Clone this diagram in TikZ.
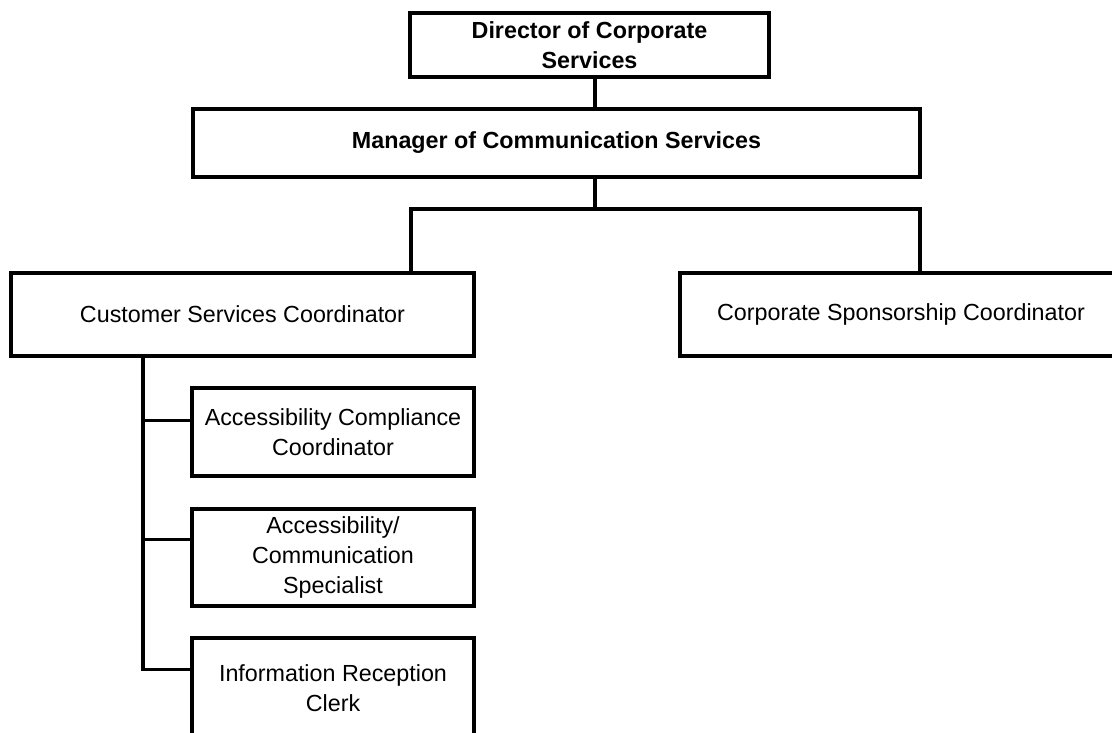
\documentclass[tikz,border=0pt]{standalone}
\usepackage{fontspec}
\setmainfont{Liberation Sans}
\begin{document}
\begin{tikzpicture}[x=1pt,y=-1pt,
  box/.style={draw=black, line width=3.2pt, rectangle, inner sep=0pt, align=center,
    font=\fontsize{23.3}{30}\selectfont, text=black},
  headbox/.style={box, font=\fontsize{23.3}{30}\selectfont\bfseries},
  link/.style={draw=black, line width=3.2pt, line join=miter}]
\useasboundingbox (0,0) rectangle (1112,732);
\clip (0,0) rectangle (1112,732);
\fill[white] (0,0) rectangle (1112,732);

% top of the chart
\node[headbox, minimum width=359pt, minimum height=64pt] (dir) at (589.5,45)
  {Director of Corporate\\Services};
\node[headbox, minimum width=727pt, minimum height=68pt] (mgr) at (556.5,143)
  {Manager of Communication Services};

% coordinators
\node[box, minimum width=463pt, minimum height=83pt] (csc) at (242.5,314.5)
  {Customer Services Coordinator};
\node[box, minimum width=442pt, minimum height=83pt] (corp) at (901,314.5)
  {Corporate Sponsorship Coordinator};

% staff under customer services
\node[box, minimum width=282pt, minimum height=88pt] (acc) at (333,432)
  {Accessibility Compliance\\Coordinator};
\node[box, minimum width=282pt, minimum height=97pt] (acs) at (333,557.5)
  {Accessibility/\\Communication\\Specialist};
\node[box, minimum width=282pt, minimum height=100pt] (irc) at (333,688)
  {Information Reception\\Clerk};

% junction points
\coordinate (j)  at (595,209);
\coordinate (lb) at (411,209);
\coordinate (rb) at (920,209);
\coordinate (sp) at (143,0);

% reporting lines
\draw[link] (dir.south -| j) -- (mgr.north -| j);
\draw[link] (mgr.south -| j) -- (j);
\draw[link] (csc.north -| lb) -- (lb) -- (rb) -- (corp.north -| rb);

\coordinate (cacc) at ([yshift=-34pt]acc.north west);
\coordinate (cacs) at ([yshift=-32pt]acs.north west);
\coordinate (circ) at ([yshift=-33pt]irc.north west);
\draw[link] (csc.south -| sp) |- (circ);
\draw[link] (sp |- cacc) -- (cacc);
\draw[link] (sp |- cacs) -- (cacs);
\end{tikzpicture}
\end{document}
